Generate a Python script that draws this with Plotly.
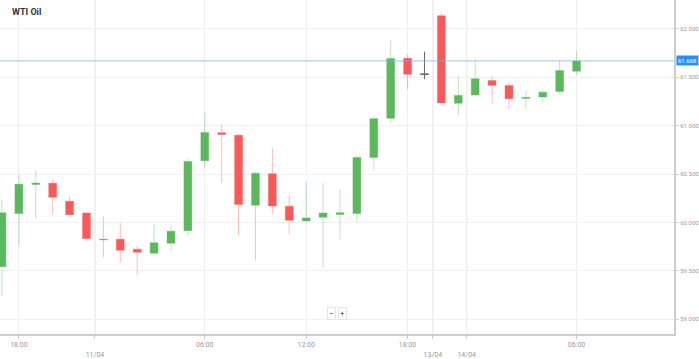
import plotly.graph_objects as go

# ---- data ----
idx = list(range(35))
opens = [59.543, 60.093, 60.391, 60.404, 60.219, 60.097, 59.827, 59.827, 59.723, 59.682,
         59.786, 59.915, 60.637, 60.927, 60.900, 60.178, 60.502, 60.168, 60.016, 60.053,
         60.083, 60.093, 60.670, 61.075, 61.696, 61.530, 62.135, 61.231, 61.315, 61.467,
         61.413, 61.281, 61.295, 61.352, 61.561]
highs = [60.232, 60.495, 60.535, 60.447, 60.279, 60.100, 60.060, 59.996, 59.766, 59.979,
         59.962, 60.657, 61.133, 61.011, 60.913, 60.522, 60.768, 60.282, 60.421, 60.407,
         60.340, 60.687, 61.079, 61.874, 61.740, 61.763, 62.168, 61.514, 61.682, 61.510,
         61.449, 61.365, 61.365, 61.672, 61.770]
lows = [59.240, 59.766, 60.043, 60.080, 60.070, 59.810, 59.638, 59.591, 59.455, 59.682,
        59.709, 59.857, 60.559, 60.407, 59.867, 59.607, 60.083, 59.874, 60.002, 59.540,
        59.824, 60.002, 60.543, 61.024, 61.376, 61.480, 61.230, 61.109, 61.315, 61.227,
        61.166, 61.173, 61.241, 61.322, 61.517]
closes = [60.100, 60.394, 60.407, 60.259, 60.080, 59.834, 59.822, 59.713, 59.692, 59.789,
          59.908, 60.630, 60.930, 60.907, 60.184, 60.508, 60.171, 60.022, 60.047, 60.097,
          60.100, 60.670, 61.072, 61.692, 61.530, 61.530, 61.234, 61.312, 61.484, 61.416,
          61.277, 61.291, 61.345, 61.568, 61.668]
neutral_idx = [25]

tick_pos = [1, 5.5, 12, 18, 24, 25.5, 27.5, 34]
tick_text = ["18:00", "<br>11/04", "06:00", "12:00", "18:00", "<br>13/04", "<br>14/04", "06:00"]
date_sep = [5.5, 25.5, 27.5]

y_ticks = [59.0, 59.5, 60.0, 60.5, 61.0, 61.5, 62.0]
last_price = 61.668
title = "WTI Oil"

GREEN = "#5cb85c"
RED = "#f85a5a"

fig = go.Figure()
fig.add_trace(go.Candlestick(
    x=idx, open=opens, high=highs, low=lows, close=closes,
    increasing=dict(fillcolor=GREEN, line=dict(color="rgba(92,184,92,0.4)", width=1)),
    decreasing=dict(fillcolor=RED, line=dict(color="rgba(248,90,90,0.4)", width=1)),
    whiskerwidth=0, showlegend=False, hoverinfo="skip",
))
fig.add_trace(go.Candlestick(
    x=[idx[i] for i in neutral_idx],
    open=[opens[i] for i in neutral_idx], high=[highs[i] for i in neutral_idx],
    low=[lows[i] for i in neutral_idx], close=[closes[i] for i in neutral_idx],
    increasing=dict(fillcolor="#666666", line=dict(color="#666666", width=1)),
    decreasing=dict(fillcolor="#666666", line=dict(color="#666666", width=1)),
    whiskerwidth=0, showlegend=False, hoverinfo="skip",
))

shapes = []
for d in date_sep:
    shapes.append(dict(type="line", xref="x", yref="paper", x0=d, x1=d, y0=0, y1=1,
                       line=dict(color="#e2e2e2", width=1), layer="below"))
shapes.append(dict(type="line", xref="paper", yref="y", x0=0, x1=1, y0=last_price, y1=last_price,
                   line=dict(color="rgba(100,180,250,0.7)", width=1)))

annotations = [
    dict(text="<b>" + title + "</b>", xref="paper", yref="paper", x=10/678, y=1-12/340.7,
         xanchor="left", yanchor="middle", showarrow=False,
         font=dict(size=9, color="#333333", family="Roboto")),
    dict(text="%.3f" % last_price, xref="paper", yref="y", x=1, y=last_price, xshift=2,
         xanchor="left", yanchor="middle", showarrow=False, bgcolor="#2a8ff0",
         font=dict(size=6, color="white", family="Roboto"), borderpad=1),
    dict(text="\u2212", xref="paper", yref="paper", x=333/678, y=1-320/340.7,
         xanchor="center", yanchor="middle", showarrow=False, bgcolor="white",
         bordercolor="#e5e5e5", borderwidth=1, borderpad=1,
         font=dict(size=8, color="#444", family="Roboto")),
    dict(text="+", xref="paper", yref="paper", x=345/678, y=1-320/340.7,
         xanchor="center", yanchor="middle", showarrow=False, bgcolor="white",
         bordercolor="#e5e5e5", borderwidth=1, borderpad=1,
         font=dict(size=8, color="#444", family="Roboto")),
]

fig.update_layout(
    width=699, height=359,
    margin=dict(l=0, r=21, t=0, b=18),
    paper_bgcolor="white", plot_bgcolor="white",
    boxgap=0.335,
    shapes=shapes, annotations=annotations,
    xaxis=dict(range=[-2/17, 676/17], tickmode="array", tickvals=tick_pos, ticktext=tick_text,
               showgrid=True, gridcolor="#efefef", gridwidth=1,
               showline=True, linecolor="#cccccc", linewidth=2,
               ticks="outside", ticklen=3, tickcolor="#cccccc",
               tickfont=dict(size=7, color="#999999", family="Roboto"),
               rangeslider=dict(visible=False), zeroline=False, fixedrange=True),
    yaxis=dict(side="right", range=[58.848, 62.297], tickmode="array", tickvals=y_ticks,
               ticktext=["%.3f" % v for v in y_ticks],
               showgrid=True, gridcolor="#f0f0f0", gridwidth=1,
               showline=True, linecolor="#cccccc", linewidth=2,
               ticks="outside", ticklen=3, tickcolor="#cccccc",
               tickfont=dict(size=6, color="#999999", family="Roboto"),
               zeroline=False, fixedrange=True),
)

fig.write_html("out.html", config={"displayModeBar": False})
